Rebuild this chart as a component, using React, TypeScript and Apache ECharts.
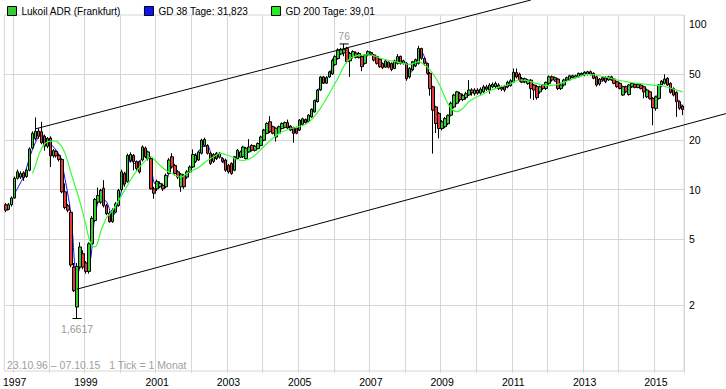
import React, { useEffect, useRef } from "react";
import * as echarts from "echarts";

const FONT = "'Liberation Sans', Arial, sans-serif";

// monthly candles from 1996-10 to 2015-10
const firstYear = 1996;
const firstMonth = 10;
const monthCount = 229;

// [open, close, low, high]
const ohlc: number[][] = [
  // 1996
  [8.1, 7.5, 7.3, 8.3], [7.6, 8.1, 7.5, 8.3], [8.1, 8.9, 7.9, 9.1],
  // 1997
  [8.9, 11.7, 8.8, 12.0], [11.7, 12.8, 11.5, 13.2], [11.9, 12.5, 11.6, 12.9], [12.6, 11.8, 11.3, 12.9],
  [12.0, 13.1, 11.8, 13.4], [13.1, 17.6, 12.9, 18.0], [17.8, 21.9, 17.5, 22.5], [20.3, 22.5, 19.8, 27.3],
  [22.6, 21.0, 20.3, 23.5], [22.4, 19.2, 18.8, 25.7], [21.0, 18.3, 17.2, 21.5], [18.3, 20.4, 17.8, 20.8],
  // 1998
  [20.5, 16.0, 13.7, 21.0], [16.0, 17.2, 15.6, 17.6], [17.0, 16.0, 15.6, 17.3], [16.1, 15.2, 14.8, 16.4],
  [15.2, 9.7, 9.5, 15.5], [9.7, 7.8, 7.6, 10.9], [8.0, 7.5, 7.3, 8.2], [7.3, 3.5, 3.4, 7.5],
  [3.4, 2.45, 2.4, 3.6], [1.95, 3.43, 1.6617, 3.6], [3.4, 4.5, 3.3, 4.8], [4.1, 3.4, 3.3, 4.3],
  // 1999
  [3.6, 3.2, 3.1, 3.7], [3.2, 4.7, 3.1, 4.8], [4.7, 6.7, 4.6, 6.9], [6.5, 8.7, 6.4, 8.9],
  [8.4, 9.2, 8.2, 10.3], [8.4, 9.9, 8.2, 10.1], [10.2, 8.0, 7.8, 11.4], [8.0, 7.15, 7.0, 8.2],
  [7.2, 6.4, 6.3, 7.4], [6.4, 7.5, 6.3, 7.7], [7.3, 8.2, 7.2, 8.4], [8.0, 9.9, 7.9, 10.1],
  // 2000
  [10.0, 12.8, 9.8, 13.2], [12.5, 10.8, 10.4, 12.8], [11.2, 16.1, 11.0, 16.5], [15.0, 16.3, 14.6, 16.8],
  [16.1, 14.8, 13.1, 16.4], [14.8, 13.4, 13.0, 15.0], [14.8, 12.8, 12.5, 15.0], [15.1, 18.1, 14.8, 18.5],
  [17.8, 15.8, 15.5, 18.2], [15.4, 16.9, 15.0, 17.2], [15.4, 10.1, 10.0, 15.8], [10.1, 9.5, 8.8, 10.4],
  // 2001
  [10.1, 11.2, 9.8, 11.5], [10.4, 10.9, 10.2, 11.2], [10.6, 10.1, 9.8, 10.9], [10.4, 12.2, 10.2, 12.5],
  [12.5, 15.1, 12.3, 15.5], [15.8, 13.7, 13.4, 16.6], [14.0, 12.5, 12.2, 14.3], [12.8, 11.9, 11.6, 13.1],
  [10.4, 12.4, 9.7, 12.6], [12.2, 10.4, 10.1, 12.4], [11.9, 12.8, 11.6, 13.1], [12.8, 13.7, 12.6, 14.0],
  // 2002
  [13.7, 16.3, 13.5, 17.5], [14.8, 16.1, 14.5, 16.6], [15.1, 16.9, 14.9, 17.2], [16.6, 19.9, 16.3, 20.3],
  [18.5, 20.1, 18.2, 20.6], [18.5, 16.6, 16.3, 18.8], [16.6, 14.4, 14.1, 16.9], [14.8, 16.3, 14.5, 16.6],
  [16.6, 15.4, 15.1, 16.9], [15.7, 16.6, 15.4, 16.9], [15.4, 14.8, 14.5, 15.7], [15.1, 13.1, 12.8, 15.4],
  // 2003
  [14.0, 12.8, 12.5, 14.3], [14.4, 12.5, 12.3, 14.6], [13.1, 15.8, 12.9, 16.0], [15.4, 17.3, 15.2, 17.6],
  [15.7, 16.9, 15.5, 17.2], [15.8, 18.1, 15.5, 18.4], [15.4, 17.8, 15.2, 18.1], [16.9, 18.1, 16.7, 20.2],
  [18.5, 17.3, 17.0, 18.8], [17.3, 18.3, 17.0, 18.6], [17.7, 19.0, 17.5, 19.3], [18.5, 20.8, 18.3, 21.2],
  // 2004
  [19.9, 22.9, 19.6, 23.3], [21.9, 25.1, 21.6, 25.5], [25.7, 22.4, 22.0, 27.8], [24.0, 21.9, 21.6, 24.4],
  [20.8, 23.5, 19.5, 23.8], [21.9, 24.0, 21.6, 24.4], [23.4, 25.1, 23.1, 25.5], [23.8, 25.4, 23.5, 25.8],
  [25.4, 23.6, 23.3, 26.5], [24.2, 22.9, 22.6, 24.5], [23.7, 21.9, 19.2, 24.0], [23.6, 21.9, 21.6, 24.0],
  // 2005
  [22.9, 26.3, 22.6, 26.7], [24.8, 26.8, 24.5, 27.2], [26.5, 25.4, 25.1, 26.9], [25.7, 28.2, 25.4, 28.6],
  [27.5, 30.5, 27.2, 31.0], [29.5, 34.5, 29.2, 35.0], [34.0, 40.0, 33.6, 40.6], [40.0, 48.0, 39.5, 48.7],
  [48.0, 44.0, 43.5, 48.7], [44.0, 47.5, 43.6, 48.5], [48.0, 51.5, 47.5, 52.3], [50.0, 60.5, 49.5, 62.0],
  // 2006
  [57.0, 63.7, 56.0, 65.0], [62.0, 70.0, 61.0, 71.5], [66.0, 70.0, 65.0, 72.0], [67.0, 70.5, 64.0, 76.0],
  [71.4, 59.4, 58.0, 73.0], [60.0, 66.5, 48.0, 68.0], [63.7, 68.3, 62.0, 69.5], [67.0, 63.0, 62.0, 68.5],
  [63.0, 66.5, 62.0, 68.0], [63.7, 55.4, 52.0, 65.0], [58.0, 65.0, 57.0, 66.0], [65.2, 68.3, 64.0, 69.5],
  // 2007
  [66.0, 67.5, 64.5, 68.5], [65.2, 60.7, 59.5, 66.0], [63.7, 58.0, 57.0, 64.5], [61.3, 55.4, 54.5, 62.0],
  [58.0, 54.7, 53.5, 58.7], [55.0, 60.0, 54.5, 61.0], [59.0, 55.0, 54.0, 59.5], [58.0, 53.2, 52.0, 58.7],
  [54.0, 60.0, 53.5, 61.0], [58.0, 63.7, 57.0, 66.0], [64.0, 58.0, 57.0, 64.5], [58.0, 60.0, 57.0, 61.0],
  // 2008
  [58.0, 46.8, 45.5, 59.0], [48.0, 54.1, 47.0, 55.0], [53.0, 59.4, 52.0, 60.0], [56.0, 61.0, 55.0, 62.0],
  [58.0, 71.4, 57.0, 74.0], [71.4, 62.2, 61.0, 72.0], [62.0, 58.0, 56.0, 63.0], [58.0, 50.5, 49.5, 58.5],
  [50.5, 40.8, 37.0, 51.5], [41.8, 30.2, 16.5, 42.5], [31.6, 25.1, 22.0, 32.0], [28.9, 23.4, 20.4, 29.5],
  // 2009
  [23.4, 25.7, 22.8, 26.3], [24.0, 26.9, 23.5, 27.5], [25.0, 28.0, 24.5, 28.5], [28.2, 33.3, 27.7, 34.0],
  [31.6, 37.3, 31.0, 38.0], [33.3, 39.0, 32.8, 39.5], [38.0, 35.0, 34.0, 39.0], [35.0, 37.0, 34.3, 38.0],
  [36.0, 38.0, 35.0, 39.0], [37.3, 40.0, 36.8, 45.9], [40.0, 38.5, 37.0, 41.0], [38.0, 40.0, 37.0, 41.0],
  // 2010
  [40.0, 38.3, 37.5, 41.0], [38.3, 40.5, 37.5, 41.5], [39.0, 41.8, 38.5, 43.0], [41.8, 40.5, 39.5, 43.0],
  [40.0, 42.9, 38.0, 44.0], [41.8, 43.3, 41.0, 44.5], [42.0, 43.8, 41.0, 45.0], [42.9, 40.8, 40.0, 44.0],
  [41.5, 40.5, 39.5, 42.5], [42.0, 40.0, 39.0, 43.0], [41.8, 44.6, 41.0, 45.5], [42.5, 45.5, 42.0, 46.5],
  // 2011
  [44.6, 51.2, 44.0, 54.0], [51.0, 48.0, 47.0, 54.0], [50.0, 46.0, 45.0, 51.0], [47.0, 44.6, 44.0, 48.0],
  [44.8, 46.8, 44.0, 47.5], [43.8, 45.9, 43.0, 46.5], [45.9, 40.8, 35.5, 46.5], [42.9, 40.0, 34.8, 43.5],
  [42.0, 36.0, 35.0, 43.0], [39.0, 41.8, 38.0, 42.5], [42.9, 40.9, 40.0, 43.5], [40.9, 44.5, 40.0, 45.0],
  // 2012
  [43.9, 48.1, 43.0, 49.0], [48.1, 46.0, 45.0, 49.0], [46.0, 47.5, 45.0, 48.3], [46.6, 40.9, 40.0, 47.3],
  [40.9, 42.9, 40.0, 43.5], [42.9, 46.0, 42.0, 46.8], [46.0, 47.5, 45.5, 48.2], [46.0, 48.8, 45.5, 49.5],
  [48.8, 47.5, 47.0, 49.5], [47.5, 48.8, 47.0, 49.5], [48.1, 50.5, 47.5, 51.0], [50.5, 49.3, 48.5, 51.0],
  // 2013
  [49.3, 51.2, 48.5, 52.0], [49.8, 51.6, 49.0, 52.3], [51.6, 49.8, 49.0, 52.5], [50.5, 47.1, 46.5, 51.2],
  [48.1, 42.9, 42.0, 48.8], [43.5, 46.6, 42.5, 47.3], [47.5, 46.0, 45.0, 48.2], [47.5, 44.9, 44.0, 48.5],
  [46.0, 48.1, 45.5, 48.8], [48.1, 46.0, 45.5, 48.8], [46.6, 43.9, 43.3, 47.2], [44.9, 41.9, 41.3, 45.5],
  // 2014
  [43.9, 40.9, 40.3, 44.5], [37.3, 41.9, 36.8, 42.5], [41.9, 39.0, 38.3, 42.5], [37.6, 42.9, 37.0, 43.5],
  [41.9, 43.9, 41.3, 44.5], [43.3, 41.5, 41.0, 44.0], [41.5, 43.3, 41.0, 44.0], [42.9, 40.9, 40.3, 43.5],
  [41.9, 39.0, 35.6, 42.5], [36.4, 40.0, 35.8, 40.8], [39.0, 35.6, 35.0, 39.6], [35.6, 31.2, 24.5, 36.2],
  // 2015
  [31.0, 36.4, 30.0, 37.0], [35.6, 42.9, 35.0, 43.5], [42.9, 45.3, 42.3, 46.0], [43.9, 46.6, 43.3, 49.8],
  [47.1, 42.9, 42.3, 47.8], [43.9, 38.7, 38.0, 44.5], [40.9, 37.3, 36.6, 41.5], [38.7, 34.0, 27.5, 39.3],
  [34.0, 31.0, 30.3, 34.6], [32.0, 30.5, 28.2, 32.6],
];

// GD 38 Tage (blue), read as [month index, value]
const gd38: number[][] = [
  [3, 9.5], [6, 12.0], [9, 17.5], [12, 21.5], [15, 19.0], [18, 16.2], [20, 11.5], [22, 7.0], [24, 3.0],
  [26, 3.6], [28, 3.6], [30, 6.8], [32, 9.0], [34, 8.4], [36, 6.9], [38, 8.5], [40, 11.5], [42, 15.0],
  [44, 14.2], [46, 15.5], [48, 16.5], [50, 11.0], [52, 10.4], [54, 11.0], [56, 14.5], [58, 12.3],
  [60, 11.3], [62, 13.2], [64, 15.8], [66, 18.0], [68, 18.3], [70, 15.3], [72, 16.0], [74, 14.0],
  [76, 13.3], [78, 16.3], [80, 17.0], [82, 17.8], [84, 17.8], [86, 19.8], [88, 23.5], [90, 23.2],
  [92, 22.8], [94, 24.8], [96, 23.7], [98, 22.5], [100, 25.8], [102, 27.0], [104, 32.5], [106, 43.0],
  [108, 46.0], [110, 55.0], [112, 66.0], [114, 69.0], [116, 62.0], [118, 66.0], [120, 61.0], [122, 66.5],
  [124, 64.0], [126, 58.5], [128, 56.5], [130, 56.5], [132, 60.0], [134, 60.0], [136, 50.0], [138, 58.0],
  [140, 68.0], [142, 56.0], [144, 37.0], [146, 25.5], [148, 25.5], [150, 31.0], [152, 37.5], [154, 36.5],
  [156, 38.5], [158, 39.0], [160, 39.5], [162, 41.0], [164, 42.5], [166, 42.0], [168, 41.0], [170, 44.0],
  [172, 49.5], [174, 46.0], [176, 45.0], [178, 40.5], [180, 40.0], [182, 42.5], [184, 47.0], [186, 44.0],
  [188, 44.0], [190, 47.5], [192, 48.2], [194, 50.0], [196, 50.5], [198, 48.5], [200, 45.0], [202, 46.0],
  [204, 47.0], [206, 43.0], [208, 40.0], [210, 40.5], [212, 42.5], [214, 41.5], [216, 38.5], [218, 34.0],
  [220, 39.0], [222, 45.0], [224, 42.0], [226, 36.0], [228, 31.8],
];

// GD 200 Tage (green), read as [month index, value]
const gd200: number[][] = [
  [9, 12.5], [10, 14.0], [11, 16.0], [12, 17.6], [13, 18.8], [14, 19.4], [15, 19.6], [16, 19.7], [17, 19.6],
  [18, 19.0], [19, 18.0], [20, 16.5], [21, 14.5], [22, 12.6], [23, 11.0], [24, 9.7], [25, 8.4], [26, 7.2],
  [27, 6.1], [28, 5.1], [29, 4.6], [30, 4.5], [31, 4.8], [32, 5.6], [33, 6.2], [34, 6.8], [35, 7.1],
  [36, 7.5], [37, 8.0], [38, 8.6], [39, 9.2], [40, 9.9], [41, 10.6], [42, 11.4], [44, 12.9], [46, 14.3],
  [48, 15.5], [49, 15.8], [50, 15.2], [52, 14.0], [54, 13.1], [56, 12.5], [58, 12.0], [59, 11.9],
  [61, 12.5], [63, 13.1], [65, 13.6], [67, 14.6], [69, 15.4], [71, 16.2], [72, 16.6], [74, 16.3],
  [76, 15.8], [78, 15.2], [80, 15.0], [82, 15.3], [84, 16.2], [86, 17.5], [88, 19.0], [90, 20.5],
  [92, 21.8], [94, 22.7], [96, 23.4], [98, 23.8], [100, 24.4], [102, 25.5], [104, 27.8], [106, 31.0],
  [108, 35.5], [110, 41.0], [112, 47.5], [114, 56.0], [116, 62.0], [118, 64.3], [120, 65.0], [122, 65.2],
  [124, 64.5], [126, 62.5], [128, 61.0], [130, 60.0], [132, 59.0], [134, 58.0], [136, 57.2], [138, 58.5],
  [139, 59.4], [140, 58.5], [142, 55.0], [144, 50.0], [146, 43.5], [148, 36.0], [150, 31.0], [152, 29.6],
  [154, 31.0], [156, 34.0], [158, 35.8], [160, 37.2], [163, 39.5], [166, 41.5], [169, 42.9], [171, 44.5],
  [173, 46.0], [176, 45.5], [178, 44.2], [180, 43.3], [183, 42.5], [186, 43.2], [188, 44.5], [190, 46.0],
  [193, 48.0], [196, 49.7], [198, 49.5], [200, 48.8], [203, 47.5], [206, 46.0], [209, 45.0], [212, 44.0],
  [215, 43.5], [218, 42.8], [221, 42.5], [224, 41.0], [226, 40.0], [228, 39.0],
];

// trend channel anchors: [month index, value]
const upperTrend: number[][] = [[10, 23.3], [120, 76.0]];
const lowerTrend: number[][] = [[24, 2.5], [197, 17.3]];

// extremes annotated on the chart: [month index, value, label]
const highMark: [number, number, string] = [114, 76, "76"];
const lowMark: [number, number, string] = [24, 1.6617, "1,6617"];

const yTickValues = [2, 5, 10, 20, 50];
const yLabelValues = [2, 5, 10, 20, 50, 100];

const seriesNames = ["Lukoil ADR (Frankfurt)", "GD 38 Tage: 31,823", "GD 200 Tage: 39,01"];
const footerText = "23.10.96 \u2013 07.10.15   1 Tick = 1 Monat";

const categories: string[] = [];
for (let k = 0; k < monthCount; k++) {
  const m0 = firstMonth - 1 + k;
  const y = firstYear + Math.floor(m0 / 12);
  const m = (m0 % 12) + 1;
  categories.push(`${y}-${m < 10 ? "0" + m : m}`);
}

export default function App() {
  const ref = useRef<HTMLDivElement>(null);
  useEffect(() => {
    if (!ref.current) return;
    const chart = echarts.init(ref.current, null, { renderer: "svg" });
    const isJan = (_i: number, v: string) => v.endsWith("-01");
    const option: any = {
      animation: false,
      backgroundColor: "#fff",
      textStyle: { fontFamily: FONT },
      legend: {
        left: 2,
        top: 1,
        icon: "rect",
        itemWidth: 9,
        itemHeight: 9,
        itemGap: 23,
        selectedMode: false,
        textStyle: { fontSize: 10, color: "#000", fontFamily: FONT },
        data: [
          { name: seriesNames[0], itemStyle: { color: "#33cc33", borderColor: "#000", borderWidth: 1 } },
          { name: seriesNames[1], itemStyle: { color: "#1010ff", borderColor: "#000", borderWidth: 1 } },
          { name: seriesNames[2], itemStyle: { color: "#22ee22", borderColor: "#000", borderWidth: 1 } },
        ],
      },
      grid: {
        left: 3,
        right: 42,
        top: 15,
        bottom: 18,
        show: true,
        borderColor: "#d6d6d6",
        borderWidth: 1,
        containLabel: false,
      },
      xAxis: {
        type: "category",
        data: categories,
        boundaryGap: true,
        axisLine: { show: false },
        axisTick: { show: true, interval: isJan, length: 2, lineStyle: { color: "#d6d6d6" } },
        axisLabel: {
          interval: (_i: number, v: string) => v.endsWith("-01") && parseInt(v.slice(0, 4), 10) % 2 === 1,
          formatter: (v: string) => v.slice(0, 4),
          color: "#000",
          fontSize: 10.5,
          fontFamily: FONT,
          margin: 5,
        },
        splitLine: { show: true, interval: isJan, lineStyle: { color: "#d6d6d6", width: 1 } },
      },
      yAxis: {
        type: "log",
        logBase: 10,
        min: 0.8,
        max: 113.7,
        position: "right",
        axisLine: { show: false },
        axisTick: { show: false, customValues: yTickValues },
        axisLabel: {
          customValues: yLabelValues,
          color: "#000",
          fontSize: 10.5,
          fontFamily: FONT,
          margin: 5,
          formatter: (v: number) => String(Math.round(v)),
        },
        splitLine: { show: true, lineStyle: { color: "#d6d6d6", width: 1 } },
      },
      series: [
        {
          type: "candlestick",
          name: seriesNames[0],
          data: ohlc,
          barWidth: 3,
          z: 3,
          itemStyle: {
            color: "#33cc33",
            color0: "#e03a3a",
            borderColor: "#000",
            borderColor0: "#000",
            borderWidth: 1,
          },
          markPoint: {
            symbol: "rect",
            symbolSize: [9, 1],
            itemStyle: { color: "#000" },
            label: { show: true, color: "#9a9a9a", fontSize: 10.5, fontFamily: FONT },
            data: [
              {
                coord: [categories[highMark[0]], highMark[1]],
                label: { position: "top", formatter: highMark[2], distance: 2 },
              },
              {
                coord: [categories[lowMark[0]], lowMark[1]],
                label: { position: "bottom", formatter: lowMark[2], distance: 5 },
              },
            ],
          },
        },
        {
          type: "line",
          name: seriesNames[1],
          data: gd38,
          showSymbol: false,
          smooth: 0.3,
          z: 2,
          lineStyle: { color: "#1010ff", width: 1 },
          itemStyle: { color: "#1010ff" },
        },
        {
          type: "line",
          name: seriesNames[2],
          data: gd200,
          showSymbol: false,
          smooth: 0.4,
          z: 4,
          lineStyle: { color: "#33ff33", width: 1.2 },
          itemStyle: { color: "#33ff33" },
        },
      ],
    };
    chart.setOption(option);

    const W = chart.getWidth();
    const toPx = (p: number[]) => chart.convertToPixel({ xAxisIndex: 0, yAxisIndex: 0 }, [p[0], p[1]]) as number[];
    const u0 = toPx(upperTrend[0]);
    const u1 = toPx(upperTrend[1]);
    const l0 = toPx(lowerTrend[0]);
    const l1 = toPx(lowerTrend[1]);
    // extend upper line to top edge, lower line to right edge
    const uSlope = (u1[1] - u0[1]) / (u1[0] - u0[0]);
    const uEndX = u0[0] + (0 - u0[1]) / uSlope;
    const lSlope = (l1[1] - l0[1]) / (l1[0] - l0[0]);
    const lEndY = l0[1] + lSlope * (W - l0[0]);
    chart.setOption({
      graphic: [
        {
          type: "line",
          z: 50,
          shape: { x1: u0[0], y1: u0[1], x2: uEndX, y2: 0 },
          style: { stroke: "#000", lineWidth: 1 },
        },
        {
          type: "line",
          z: 50,
          shape: { x1: l0[0], y1: l0[1], x2: W, y2: lEndY },
          style: { stroke: "#000", lineWidth: 1 },
        },
        {
          type: "text",
          left: 7,
          top: 359,
          z: 50,
          style: { text: footerText, fill: "#a0a0a0", font: `10.5px ${FONT}` },
        },
      ],
    });

    return () => chart.dispose();
  }, []);

  return (
    <div
      ref={ref}
      style={{ position: "fixed", left: 0, top: 0, width: 726, height: 389, background: "#fff" }}
    />
  );
}
